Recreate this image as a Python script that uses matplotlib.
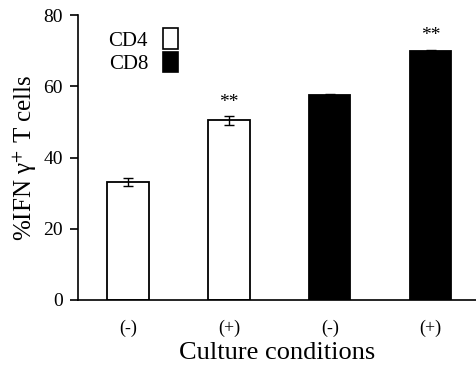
import matplotlib
matplotlib.use("Agg")
import matplotlib.pyplot as plt
from matplotlib.patches import Patch

plt.rcParams['font.family'] = ['Liberation Serif', 'DejaVu Serif']
plt.rcParams['mathtext.fontset'] = 'stix'

categories = ['(-)', '(+)', '(-)', '(+)']
values = [33.2, 50.4, 57.5, 69.8]
errors = [1.1, 1.2, 0.3, 0.5]
groups = ['CD4', 'CD4', 'CD8', 'CD8']
signif = ['', '**', '', '**']
colors = {'CD4': 'white', 'CD8': 'black'}

fig = plt.figure(figsize=(4.76, 3.68), dpi=100)
ax = fig.add_axes([0.164, 0.1848, 0.836, 0.7744])

x = list(range(len(values)))
ax.bar(x, values, width=0.41, color=[colors[g] for g in groups],
       edgecolor='black', linewidth=1.3, zorder=2)
ax.errorbar(x, values, yerr=errors, fmt='none', ecolor='black',
            elinewidth=1.0, capsize=3.5, capthick=1.0, zorder=3)
for xi, v, e, s in zip(x, values, errors, signif):
    if s:
        ax.text(xi, v + e + 1.5, s, ha='center', va='bottom', fontsize=14)

ax.set_xlim(-0.495, 3.45)
ax.set_ylim(0, 80)
ax.set_yticks([0, 20, 40, 60, 80])
ax.set_xticks(x)
ax.set_xticklabels(categories, fontsize=13)
ax.tick_params(axis='x', length=0, pad=14)
ax.tick_params(axis='y', direction='out', length=6, width=1.2, labelsize=14, pad=5)
ax.spines['top'].set_visible(False)
ax.spines['right'].set_visible(False)
ax.spines['left'].set_linewidth(1.2)
ax.spines['bottom'].set_linewidth(1.2)

ax.set_xlabel('Culture conditions', fontsize=19, labelpad=4)
ax.set_ylabel('%IFN γ$^{+}$ T cells', fontsize=18, labelpad=3)

handles = [Patch(facecolor='white', edgecolor='black', linewidth=1.2),
           Patch(facecolor='black', edgecolor='black', linewidth=1.2)]
ax.legend(handles, ['CD4', 'CD8'], loc='upper left', bbox_to_anchor=(0.04, 1.005),
          frameon=False, markerfirst=False, fontsize=15, handlelength=0.75,
          handleheight=1.15, handletextpad=0.7, labelspacing=0.05, borderpad=0.2)

fig.savefig('out.png', dpi=100)
